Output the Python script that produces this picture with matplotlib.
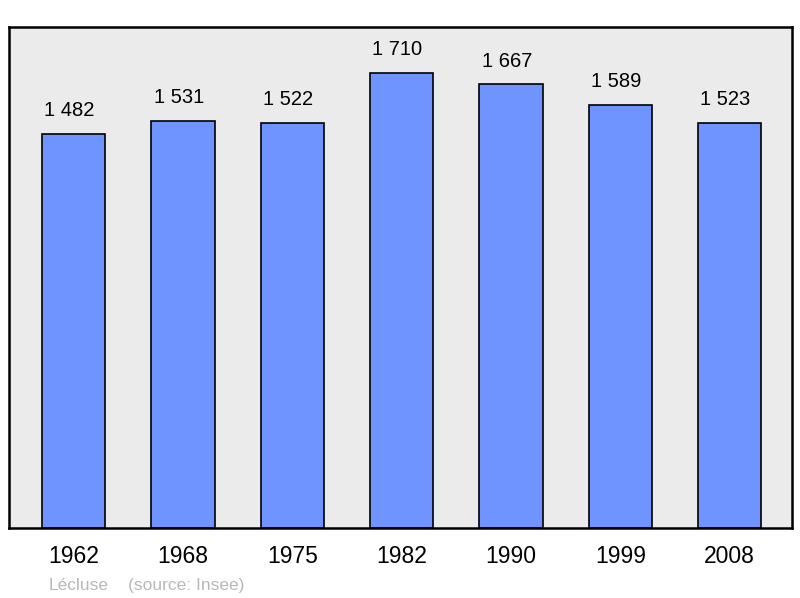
import matplotlib
matplotlib.use("Agg")
import matplotlib.pyplot as plt

plt.rcParams['font.family'] = ['Liberation Sans', 'DejaVu Sans']

# donnees
annees = ["1962", "1968", "1975", "1982", "1990", "1999", "2008"]
population = [1482, 1531, 1522, 1710, 1667, 1589, 1523]
etiquettes = ["1 482", "1 531", "1 522", "1 710", "1 667", "1 589", "1 523"]

fig = plt.figure(figsize=(8, 5.98), dpi=100)
ax = fig.add_axes([9/800, 70/598, 783/800, 501/598])
ax.set_facecolor("#ebebeb")

x = range(len(annees))
bars = ax.bar(x, population, width=0.58, color="#7094ff", edgecolor="black", linewidth=1.2, zorder=2)

for xi, val, lab in zip(x, population, etiquettes):
    ax.annotate(lab, (xi, val), xytext=(-3, 10), textcoords="offset points",
                ha="center", va="bottom", fontsize=14.5, color="black")

ax.set_xlim(-0.59, 6.57)
ax.set_ylim(0, 1883)
ax.set_yticks([])
ax.set_xticks(list(x))
ax.set_xticklabels(annees, fontsize=16.5)
ax.tick_params(axis="x", length=0, pad=12)

for s in ax.spines.values():
    s.set_linewidth(1.8)
    s.set_color("black")

fig.text(49/800, 1 - 590/598, "Lécluse", fontsize=12.5, color="#b8b8b8", ha="left", va="baseline")
fig.text(128/800, 1 - 590/598, "(source: Insee)", fontsize=12.5, color="#b8b8b8", ha="left", va="baseline")

fig.savefig("out.png", dpi=100)
